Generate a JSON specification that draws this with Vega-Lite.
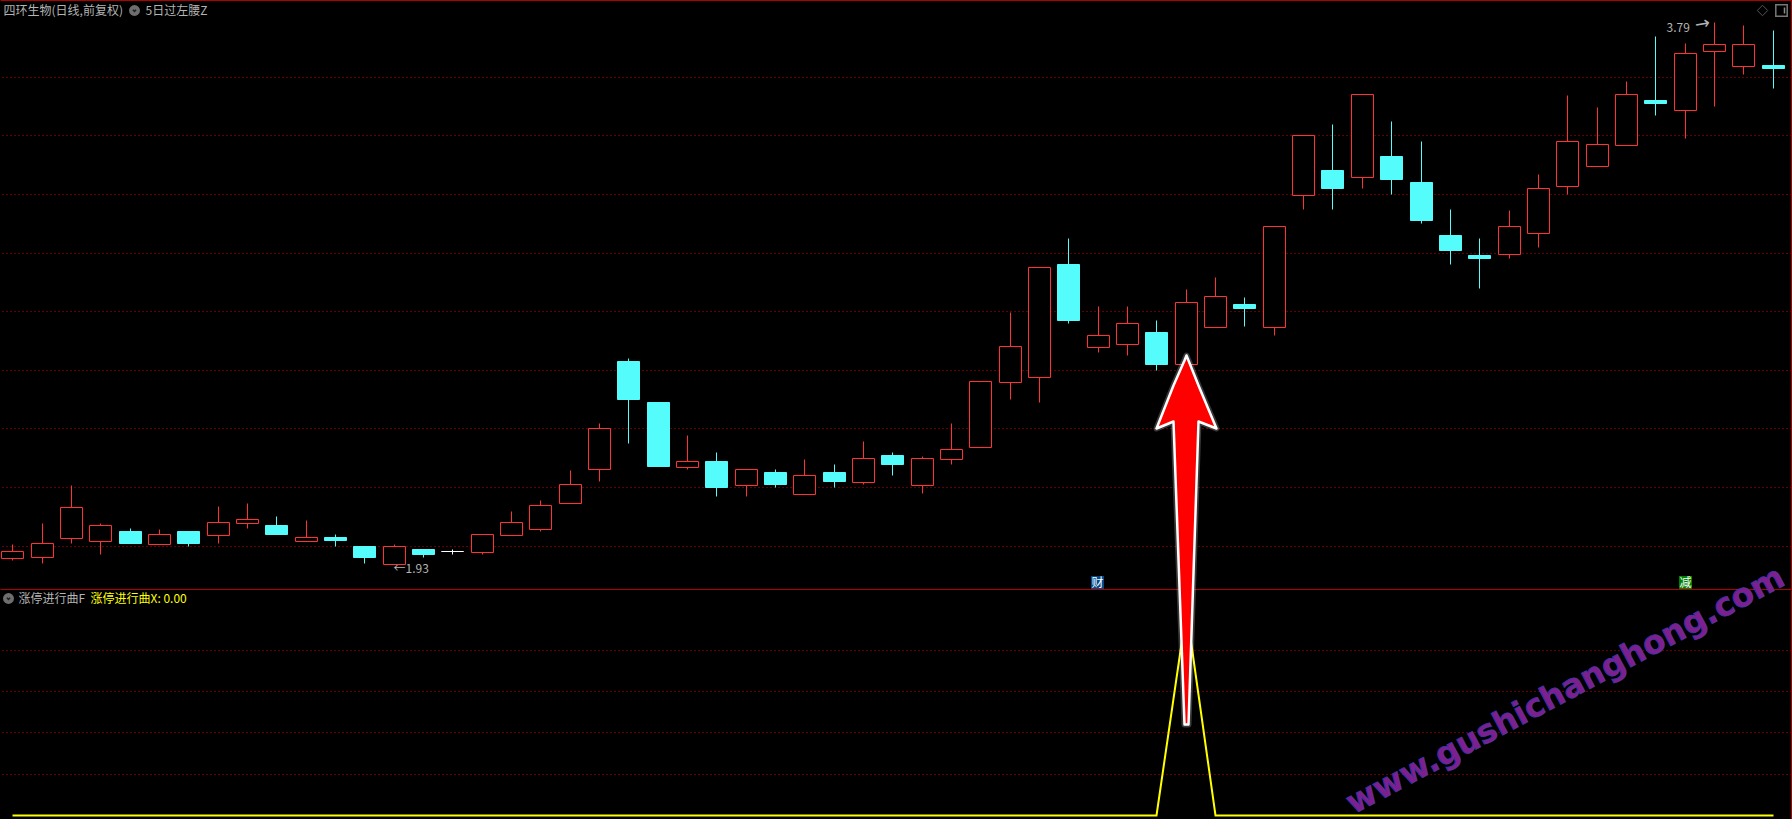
{
"$schema":"https://vega.github.io/schema/vega-lite/v6.json",
"background":"#000000",
"padding":{"left":-0.5,"top":-0.5,"right":0,"bottom":0},
"config":{"view":{"stroke":null},"concat":{"spacing":0},"scale":{"continuousPadding":0,"round":true},"axis":{"translate":0}},
"datasets":{
"candles":[
{"day":1,"dir":"up","open":1.952,"close":1.974,"high":1.999,"low":1.944},
{"day":2,"dir":"up","open":1.953,"close":2.001,"high":2.071,"low":1.934},
{"day":3,"dir":"up","open":2.021,"close":2.125,"high":2.201,"low":2.003},
{"day":4,"dir":"up","open":2.010,"close":2.063,"high":2.071,"low":1.965},
{"day":5,"dir":"down","open":2.044,"close":2.003,"high":2.054,"low":2.003},
{"day":6,"dir":"up","open":2.000,"close":2.032,"high":2.051,"low":2.000},
{"day":7,"dir":"down","open":2.044,"close":2.003,"high":2.044,"low":1.992},
{"day":8,"dir":"up","open":2.031,"close":2.074,"high":2.129,"low":2.003},
{"day":9,"dir":"up","open":2.072,"close":2.084,"high":2.140,"low":2.054},
{"day":10,"dir":"down","open":2.064,"close":2.033,"high":2.095,"low":2.033},
{"day":11,"dir":"up","open":2.010,"close":2.022,"high":2.081,"low":2.010},
{"day":12,"dir":"down","open":2.023,"close":2.013,"high":2.033,"low":1.992},
{"day":13,"dir":"down","open":1.992,"close":1.954,"high":1.992,"low":1.934},
{"day":14,"dir":"up","open":1.931,"close":1.991,"high":1.999,"low":1.931},
{"day":15,"dir":"down","open":1.982,"close":1.965,"high":1.982,"low":1.954},
{"day":16,"dir":"flat","open":1.974,"close":1.974,"high":1.982,"low":1.965},
{"day":17,"dir":"up","open":1.973,"close":2.032,"high":2.032,"low":1.965},
{"day":18,"dir":"up","open":2.031,"close":2.074,"high":2.112,"low":2.031},
{"day":19,"dir":"up","open":2.052,"close":2.132,"high":2.150,"low":2.044},
{"day":20,"dir":"up","open":2.141,"close":2.204,"high":2.253,"low":2.141},
{"day":21,"dir":"up","open":2.255,"close":2.396,"high":2.414,"low":2.215},
{"day":22,"dir":"down","open":2.627,"close":2.496,"high":2.637,"low":2.346},
{"day":23,"dir":"down","open":2.486,"close":2.267,"high":2.486,"low":2.267},
{"day":24,"dir":"up","open":2.264,"close":2.283,"high":2.373,"low":2.256},
{"day":25,"dir":"down","open":2.284,"close":2.195,"high":2.315,"low":2.164},
{"day":26,"dir":"up","open":2.202,"close":2.255,"high":2.255,"low":2.164},
{"day":27,"dir":"down","open":2.246,"close":2.205,"high":2.256,"low":2.195},
{"day":28,"dir":"up","open":2.172,"close":2.235,"high":2.291,"low":2.172},
{"day":29,"dir":"down","open":2.246,"close":2.215,"high":2.273,"low":2.195},
{"day":30,"dir":"up","open":2.213,"close":2.293,"high":2.352,"low":2.205},
{"day":31,"dir":"down","open":2.304,"close":2.273,"high":2.315,"low":2.236},
{"day":32,"dir":"up","open":2.202,"close":2.293,"high":2.301,"low":2.174},
{"day":33,"dir":"up","open":2.292,"close":2.324,"high":2.414,"low":2.273},
{"day":34,"dir":"up","open":2.333,"close":2.557,"high":2.557,"low":2.333},
{"day":35,"dir":"up","open":2.556,"close":2.677,"high":2.795,"low":2.496},
{"day":36,"dir":"up","open":2.573,"close":2.948,"high":2.948,"low":2.486},
{"day":37,"dir":"down","open":2.959,"close":2.767,"high":3.049,"low":2.757},
{"day":38,"dir":"up","open":2.676,"close":2.715,"high":2.815,"low":2.658},
{"day":39,"dir":"up","open":2.686,"close":2.756,"high":2.815,"low":2.647},
{"day":40,"dir":"down","open":2.726,"close":2.616,"high":2.767,"low":2.596},
{"day":41,"dir":"up","open":2.615,"close":2.828,"high":2.874,"low":2.615},
{"day":42,"dir":"up","open":2.743,"close":2.849,"high":2.915,"low":2.743},
{"day":43,"dir":"down","open":2.821,"close":2.810,"high":2.846,"low":2.747},
{"day":44,"dir":"up","open":2.743,"close":3.089,"high":3.089,"low":2.716},
{"day":45,"dir":"up","open":3.197,"close":3.401,"high":3.401,"low":3.148},
{"day":46,"dir":"down","open":3.282,"close":3.220,"high":3.440,"low":3.148},
{"day":47,"dir":"up","open":3.259,"close":3.542,"high":3.542,"low":3.220},
{"day":48,"dir":"down","open":3.330,"close":3.251,"high":3.450,"low":3.200},
{"day":49,"dir":"down","open":3.241,"close":3.110,"high":3.381,"low":3.100},
{"day":50,"dir":"down","open":3.059,"close":3.007,"high":3.148,"low":2.959},
{"day":51,"dir":"down","open":2.990,"close":2.980,"high":3.049,"low":2.877},
{"day":52,"dir":"up","open":2.995,"close":3.089,"high":3.145,"low":2.980},
{"day":53,"dir":"up","open":3.067,"close":3.219,"high":3.268,"low":3.018},
{"day":54,"dir":"up","open":3.228,"close":3.380,"high":3.539,"low":3.200},
{"day":55,"dir":"up","open":3.297,"close":3.370,"high":3.498,"low":3.297},
{"day":56,"dir":"up","open":3.369,"close":3.542,"high":3.587,"low":3.369},
{"day":57,"dir":"down","open":3.522,"close":3.512,"high":3.742,"low":3.471},
{"day":58,"dir":"up","open":3.489,"close":3.682,"high":3.718,"low":3.392},
{"day":59,"dir":"up","open":3.691,"close":3.713,"high":3.790,"low":3.501},
{"day":60,"dir":"up","open":3.640,"close":3.713,"high":3.779,"low":3.611},
{"day":61,"dir":"down","open":3.642,"close":3.632,"high":3.762,"low":3.563}
],
"indicator":[
{"day":1,"x":0},{"day":2,"x":0},{"day":3,"x":0},{"day":4,"x":0},{"day":5,"x":0},{"day":6,"x":0},{"day":7,"x":0},{"day":8,"x":0},{"day":9,"x":0},{"day":10,"x":0},
{"day":11,"x":0},{"day":12,"x":0},{"day":13,"x":0},{"day":14,"x":0},{"day":15,"x":0},{"day":16,"x":0},{"day":17,"x":0},{"day":18,"x":0},{"day":19,"x":0},{"day":20,"x":0},
{"day":21,"x":0},{"day":22,"x":0},{"day":23,"x":0},{"day":24,"x":0},{"day":25,"x":0},{"day":26,"x":0},{"day":27,"x":0},{"day":28,"x":0},{"day":29,"x":0},{"day":30,"x":0},
{"day":31,"x":0},{"day":32,"x":0},{"day":33,"x":0},{"day":34,"x":0},{"day":35,"x":0},{"day":36,"x":0},{"day":37,"x":0},{"day":38,"x":0},{"day":39,"x":0},{"day":40,"x":0},
{"day":41,"x":100},{"day":42,"x":0},{"day":43,"x":0},{"day":44,"x":0},{"day":45,"x":0},{"day":46,"x":0},{"day":47,"x":0},{"day":48,"x":0},{"day":49,"x":0},{"day":50,"x":0},
{"day":51,"x":0},{"day":52,"x":0},{"day":53,"x":0},{"day":54,"x":0},{"day":55,"x":0},{"day":56,"x":0},{"day":57,"x":0},{"day":58,"x":0},{"day":59,"x":0},{"day":60,"x":0},{"day":61,"x":0}
],
"topText":[
{"label":"四环生物(日线,前复权)","day":0.686,"price":3.831},
{"label":"5日过左腰Z","day":5.516,"price":3.831},
{"label":"←1.93","day":13.98,"price":1.918},
{"label":"3.79","day":57.37,"price":3.772}
],
"bottomText":[
{"label":"涨停进行曲F","day":1.184,"x":105.2,"tone":"grey"},
{"label":"涨停进行曲X: 0.00","day":3.652,"x":105.2,"tone":"yellow"}
],
"badges":[
{"label":"财","day":37.97,"price":1.869,"tone":"cai"},
{"label":"减","day":58.0,"price":1.87,"tone":"jian"}
],
"arrow":[
{"day":39.985,"tip":187.7,"tail":187.7},
{"day":40.58,"tip":208.4,"tail":191.2},
{"day":40.94,"tip":220.8,"tail":44.0},
{"day":41.007,"tip":223.2,"tail":44.0},
{"day":41.075,"tip":220.8,"tail":44.0},
{"day":41.43,"tip":208.4,"tail":191.2},
{"day":42.03,"tip":187.7,"tail":187.7}
]
},
"bounds":"flush",
"spacing":0,
"resolve":{"scale":{"color":"independent","fill":"independent","stroke":"independent"}},
"vconcat":[
{
"width":1791,"height":590,
"layer":[
{"data":{"name":"candles"},"mark":{"type":"rule","strokeWidth":1},
"encoding":{
"x":{"field":"day","type":"quantitative","axis":null,"scale":{"domain":[0.584,61.628],"nice":false}},
"y":{"field":"low","type":"quantitative","scale":{"domain":[1.8413,3.865],"nice":false},
"axis":{"orient":"right","title":null,"labels":false,"ticks":false,"domain":true,"domainColor":"#B00000","grid":true,"gridColor":"#C00000","gridDash":[1,3],"gridWidth":1,"values":[3.600,3.401,3.199,2.996,2.797,2.595,2.396,2.194,1.991]}},
"y2":{"field":"high"},
"stroke":{"field":"dir","type":"nominal","legend":null,"scale":{"domain":["up","down","flat"],"range":["#FF3232","#54FCFC","#FFFFFF"]}}}},
{"data":{"name":"candles"},"mark":{"type":"bar","size":22,"strokeWidth":1},
"encoding":{
"x":{"field":"day","type":"quantitative","axis":null,"scale":{"domain":[0.584,61.628],"nice":false}},
"y":{"field":"open","type":"quantitative","scale":{"domain":[1.8413,3.865],"nice":false}},
"y2":{"field":"close"},
"fill":{"field":"dir","type":"nominal","legend":null,"scale":{"domain":["up","down","flat"],"range":["#000000","#54FCFC","#FFFFFF"]}},
"stroke":{"field":"dir","type":"nominal","legend":null,"scale":{"domain":["up","down","flat"],"range":["#FF3232","#54FCFC","#FFFFFF"]}}}},
{"data":{"values":[{"price":3.8645}]},"mark":{"type":"rule","color":"#B00000","strokeWidth":1},"encoding":{"y":{"field":"price","type":"quantitative","scale":{"domain":[1.8413,3.865],"nice":false}}}},
{"data":{"values":[{"price":1.8447}]},"mark":{"type":"rule","color":"#B00000","strokeWidth":1},"encoding":{"y":{"field":"price","type":"quantitative","scale":{"domain":[1.8413,3.865],"nice":false}}}},
{"data":{"name":"topText"},"mark":{"type":"text","align":"left","baseline":"middle","font":"Noto Sans CJK SC","fontSize":12,"color":"#B4B4B4"},
"encoding":{
"x":{"field":"day","type":"quantitative","axis":null,"scale":{"domain":[0.584,61.628],"nice":false}},
"y":{"field":"price","type":"quantitative","scale":{"domain":[1.8413,3.865],"nice":false}},
"text":{"field":"label"}}},
{"data":{"values":[{"day":58.59,"price":3.783}]},"mark":{"type":"text","text":"→","angle":-10,"font":"DejaVu Sans","fontSize":18,"color":"#B4B4B4","baseline":"middle","align":"center"},
"encoding":{
"x":{"field":"day","type":"quantitative","axis":null,"scale":{"domain":[0.584,61.628],"nice":false}},
"y":{"field":"price","type":"quantitative","scale":{"domain":[1.8413,3.865],"nice":false}}}},
{"data":{"values":[{"day":5.151,"price":3.831}]},"mark":{"type":"point","shape":"circle","filled":true,"size":120,"color":"#6E6E6E","opacity":1},
"encoding":{
"x":{"field":"day","type":"quantitative","axis":null,"scale":{"domain":[0.584,61.628],"nice":false}},
"y":{"field":"price","type":"quantitative","scale":{"domain":[1.8413,3.865],"nice":false}}}},
{"data":{"values":[{"day":5.151,"price":3.831}]},"mark":{"type":"point","shape":"M-0.5,-0.25L0,0.3L0.5,-0.25","filled":false,"size":40,"color":"#1E1E1E","strokeWidth":1.5,"opacity":1},
"encoding":{
"x":{"field":"day","type":"quantitative","axis":null,"scale":{"domain":[0.584,61.628],"nice":false}},
"y":{"field":"price","type":"quantitative","scale":{"domain":[1.8413,3.865],"nice":false}}}},
{"data":{"values":[{"day":60.64,"price":3.831}]},"mark":{"type":"point","shape":"diamond","filled":false,"size":110,"color":"#555555","strokeWidth":1,"opacity":1},
"encoding":{
"x":{"field":"day","type":"quantitative","axis":null,"scale":{"domain":[0.584,61.628],"nice":false}},
"y":{"field":"price","type":"quantitative","scale":{"domain":[1.8413,3.865],"nice":false}}}},
{"data":{"values":[{"day":61.3,"price":3.831}]},"mark":{"type":"point","shape":"square","filled":false,"size":130,"color":"#777777","strokeWidth":1.5,"opacity":1},
"encoding":{
"x":{"field":"day","type":"quantitative","axis":null,"scale":{"domain":[0.584,61.628],"nice":false}},
"y":{"field":"price","type":"quantitative","scale":{"domain":[1.8413,3.865],"nice":false}}}},
{"data":{"values":[{"day":61.39,"price":3.831}]},"mark":{"type":"point","shape":"M-0.25,-1L0.25,-1L0.25,1L-0.25,1Z","filled":true,"size":36,"color":"#8A8A8A","opacity":1},
"encoding":{
"x":{"field":"day","type":"quantitative","axis":null,"scale":{"domain":[0.584,61.628],"nice":false}},
"y":{"field":"price","type":"quantitative","scale":{"domain":[1.8413,3.865],"nice":false}}}},
{"data":{"name":"badges"},"mark":{"type":"point","shape":"square","filled":true,"size":170,"opacity":1},
"encoding":{
"x":{"field":"day","type":"quantitative","axis":null,"scale":{"domain":[0.584,61.628],"nice":false}},
"y":{"field":"price","type":"quantitative","scale":{"domain":[1.8413,3.865],"nice":false}},
"color":{"field":"tone","type":"nominal","legend":null,"scale":{"domain":["cai","jian"],"range":["#004A8C","#008000"]}}}},
{"data":{"name":"badges"},"mark":{"type":"text","align":"center","baseline":"middle","font":"Noto Sans CJK SC","fontSize":12,"color":"#FFFFFF"},
"encoding":{
"x":{"field":"day","type":"quantitative","axis":null,"scale":{"domain":[0.584,61.628],"nice":false}},
"y":{"field":"price","type":"quantitative","scale":{"domain":[1.8413,3.865],"nice":false}},
"text":{"field":"label"}}}
]
},
{
"width":1791,"height":229,
"layer":[
{"data":{"name":"indicator"},"mark":{"type":"line","color":"#FFFF00","strokeWidth":2,"interpolate":"linear"},
"encoding":{
"x":{"field":"day","type":"quantitative","axis":null,"scale":{"domain":[0.584,61.628],"nice":false}},
"y":{"field":"x","type":"quantitative","scale":{"domain":[-2.04,109.08],"nice":false},
"axis":{"orient":"right","title":null,"labels":false,"ticks":false,"domain":true,"domainColor":"#B00000","grid":true,"gridColor":"#C00000","gridDash":[1,3],"gridWidth":1,"values":[20,40,60,80]}}}},
{"data":{"name":"bottomText"},"mark":{"type":"text","align":"left","baseline":"middle","font":"Noto Sans CJK SC","fontSize":12},
"encoding":{
"x":{"field":"day","type":"quantitative","axis":null,"scale":{"domain":[0.584,61.628],"nice":false}},
"y":{"field":"x","type":"quantitative","scale":{"domain":[-2.04,109.08],"nice":false}},
"text":{"field":"label"},
"color":{"field":"tone","type":"nominal","legend":null,"scale":{"domain":["grey","yellow"],"range":["#B4B4B4","#FFFF00"]}}}},
{"data":{"values":[{"day":0.857,"x":105.2}]},"mark":{"type":"point","shape":"circle","filled":true,"size":120,"color":"#6E6E6E","opacity":1},
"encoding":{
"x":{"field":"day","type":"quantitative","axis":null,"scale":{"domain":[0.584,61.628],"nice":false}},
"y":{"field":"x","type":"quantitative","scale":{"domain":[-2.04,109.08],"nice":false}}}},
{"data":{"values":[{"day":0.857,"x":105.2}]},"mark":{"type":"point","shape":"M-0.5,-0.25L0,0.3L0.5,-0.25","filled":false,"size":40,"color":"#1E1E1E","strokeWidth":1.5,"opacity":1},
"encoding":{
"x":{"field":"day","type":"quantitative","axis":null,"scale":{"domain":[0.584,61.628],"nice":false}},
"y":{"field":"x","type":"quantitative","scale":{"domain":[-2.04,109.08],"nice":false}}}},
{"data":{"name":"arrow"},"mark":{"type":"area","fill":"#FF0000","stroke":"#FFFFFF","strokeWidth":6,"strokeOpacity":0.22,"fillOpacity":1,"interpolate":"linear","orient":"vertical","strokeJoin":"round"},
"encoding":{
"x":{"field":"day","type":"quantitative","axis":null,"scale":{"domain":[0.584,61.628],"nice":false}},
"y":{"field":"tip","type":"quantitative","scale":{"domain":[-2.04,109.08],"nice":false}},
"y2":{"field":"tail"}}},
{"data":{"name":"arrow"},"mark":{"type":"area","fill":"#FF0000","stroke":"#FFFFFF","strokeWidth":2.5,"fillOpacity":1,"interpolate":"linear","orient":"vertical","strokeJoin":"round"},
"encoding":{
"x":{"field":"day","type":"quantitative","axis":null,"scale":{"domain":[0.584,61.628],"nice":false}},
"y":{"field":"tip","type":"quantitative","scale":{"domain":[-2.04,109.08],"nice":false}},
"y2":{"field":"tail"}}},
{"data":{"values":[{"label":"www.gushichanghong.com","day":53.93,"x":60.5}]},"mark":{"type":"text","align":"center","baseline":"middle","angle":-28,"font":"DejaVu Sans","fontWeight":"bold","fontSize":32.5,"fill":"#7E1F90","stroke":"#3A3AA8","strokeWidth":0.7},
"encoding":{
"x":{"field":"day","type":"quantitative","axis":null,"scale":{"domain":[0.584,61.628],"nice":false}},
"y":{"field":"x","type":"quantitative","scale":{"domain":[-2.04,109.08],"nice":false}},
"text":{"field":"label"}}}
]
}
]
}
